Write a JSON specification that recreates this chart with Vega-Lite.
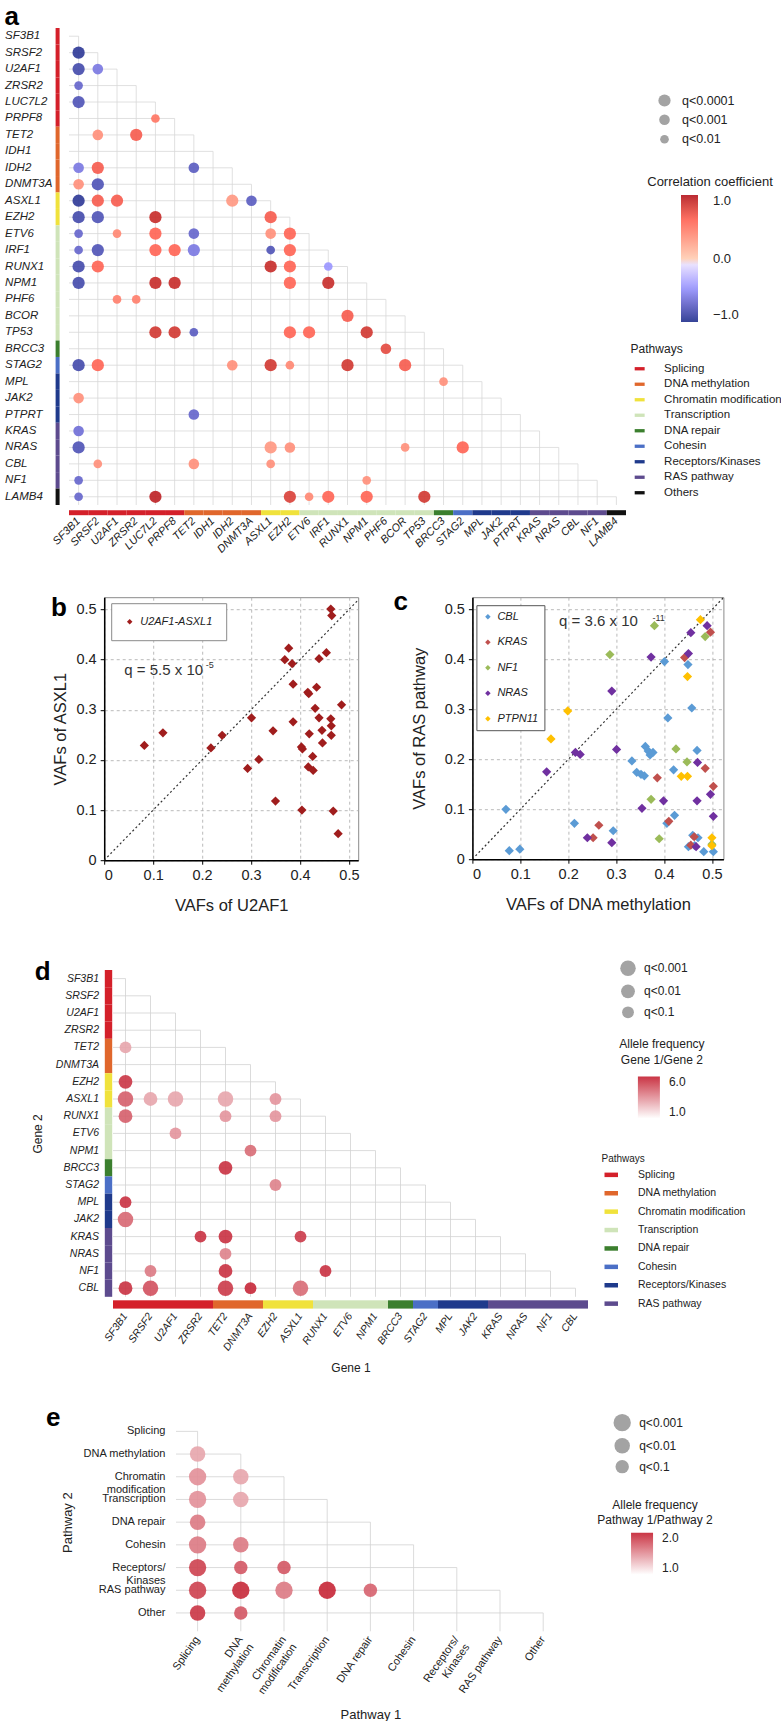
{
"$schema":"https://vega.github.io/schema/vega-lite/v6.json",
"background":"white",
"padding":{"left":3,"top":3,"right":0,"bottom":0},
"config":{"font":"Liberation Sans","view":{"stroke":null},
"axis":{"labelColor":"#222","titleColor":"#222","titleFontWeight":"normal","labelFont":"Liberation Sans","titleFont":"Liberation Sans"},
"legend":{"labelColor":"#222","titleColor":"#222","titleFontWeight":"normal","padding":0,"labelFont":"Liberation Sans","titleFont":"Liberation Sans"},
"title":{"font":"Liberation Sans","fontSize":26,"fontWeight":"bold","anchor":"start","frame":"group","offset":0,"baseline":"alphabetic","color":"#000"}},
"datasets":{
"genesA":[{"gene":"SF3B1","pathway":"Splicing"},{"gene":"SRSF2","pathway":"Splicing"},{"gene":"U2AF1","pathway":"Splicing"},{"gene":"ZRSR2","pathway":"Splicing"},{"gene":"LUC7L2","pathway":"Splicing"},{"gene":"PRPF8","pathway":"Splicing"},{"gene":"TET2","pathway":"DNA methylation"},{"gene":"IDH1","pathway":"DNA methylation"},{"gene":"IDH2","pathway":"DNA methylation"},{"gene":"DNMT3A","pathway":"DNA methylation"},{"gene":"ASXL1","pathway":"Chromatin modification"},{"gene":"EZH2","pathway":"Chromatin modification"},{"gene":"ETV6","pathway":"Transcription"},{"gene":"IRF1","pathway":"Transcription"},{"gene":"RUNX1","pathway":"Transcription"},{"gene":"NPM1","pathway":"Transcription"},{"gene":"PHF6","pathway":"Transcription"},{"gene":"BCOR","pathway":"Transcription"},{"gene":"TP53","pathway":"Transcription"},{"gene":"BRCC3","pathway":"DNA repair"},{"gene":"STAG2","pathway":"Cohesin"},{"gene":"MPL","pathway":"Receptors/Kinases"},{"gene":"JAK2","pathway":"Receptors/Kinases"},{"gene":"PTPRT","pathway":"Receptors/Kinases"},{"gene":"KRAS","pathway":"RAS pathway"},{"gene":"NRAS","pathway":"RAS pathway"},{"gene":"CBL","pathway":"RAS pathway"},{"gene":"NF1","pathway":"RAS pathway"},{"gene":"LAMB4","pathway":"Others"}],
"dotsA":[
{"g1":"SF3B1","g2":"SRSF2","cc":-0.95,"q":"q<0.0001"},{"g1":"SF3B1","g2":"U2AF1","cc":-0.85,"q":"q<0.0001"},{"g1":"SRSF2","g2":"U2AF1","cc":-0.6,"q":"q<0.001"},{"g1":"SF3B1","g2":"ZRSR2","cc":-0.7,"q":"q<0.01"},{"g1":"SF3B1","g2":"LUC7L2","cc":-0.8,"q":"q<0.0001"},{"g1":"LUC7L2","g2":"PRPF8","cc":0.5,"q":"q<0.01"},{"g1":"SRSF2","g2":"TET2","cc":0.35,"q":"q<0.001"},{"g1":"ZRSR2","g2":"TET2","cc":0.65,"q":"q<0.0001"},{"g1":"SF3B1","g2":"IDH2","cc":-0.6,"q":"q<0.001"},{"g1":"SRSF2","g2":"IDH2","cc":0.65,"q":"q<0.0001"},{"g1":"TET2","g2":"IDH2","cc":-0.75,"q":"q<0.001"},{"g1":"SF3B1","g2":"DNMT3A","cc":0.35,"q":"q<0.001"},{"g1":"SRSF2","g2":"DNMT3A","cc":-0.8,"q":"q<0.0001"},{"g1":"SF3B1","g2":"ASXL1","cc":-0.95,"q":"q<0.0001"},{"g1":"SRSF2","g2":"ASXL1","cc":0.65,"q":"q<0.0001"},{"g1":"U2AF1","g2":"ASXL1","cc":0.65,"q":"q<0.0001"},{"g1":"IDH2","g2":"ASXL1","cc":0.3,"q":"q<0.0001"},{"g1":"DNMT3A","g2":"ASXL1","cc":-0.75,"q":"q<0.001"},{"g1":"SF3B1","g2":"EZH2","cc":-0.85,"q":"q<0.0001"},{"g1":"SRSF2","g2":"EZH2","cc":-0.8,"q":"q<0.0001"},{"g1":"LUC7L2","g2":"EZH2","cc":0.9,"q":"q<0.0001"},{"g1":"ASXL1","g2":"EZH2","cc":0.65,"q":"q<0.0001"},{"g1":"SF3B1","g2":"ETV6","cc":-0.7,"q":"q<0.01"},{"g1":"U2AF1","g2":"ETV6","cc":0.4,"q":"q<0.01"},{"g1":"LUC7L2","g2":"ETV6","cc":0.6,"q":"q<0.0001"},{"g1":"TET2","g2":"ETV6","cc":-0.7,"q":"q<0.001"},{"g1":"ASXL1","g2":"ETV6","cc":0.35,"q":"q<0.001"},{"g1":"EZH2","g2":"ETV6","cc":0.6,"q":"q<0.0001"},{"g1":"SF3B1","g2":"IRF1","cc":-0.7,"q":"q<0.01"},{"g1":"SRSF2","g2":"IRF1","cc":-0.8,"q":"q<0.0001"},{"g1":"LUC7L2","g2":"IRF1","cc":0.6,"q":"q<0.0001"},{"g1":"PRPF8","g2":"IRF1","cc":0.6,"q":"q<0.0001"},{"g1":"TET2","g2":"IRF1","cc":-0.6,"q":"q<0.0001"},{"g1":"ASXL1","g2":"IRF1","cc":-0.8,"q":"q<0.01"},{"g1":"EZH2","g2":"IRF1","cc":0.6,"q":"q<0.0001"},{"g1":"SF3B1","g2":"RUNX1","cc":-0.85,"q":"q<0.0001"},{"g1":"SRSF2","g2":"RUNX1","cc":0.6,"q":"q<0.0001"},{"g1":"ASXL1","g2":"RUNX1","cc":0.9,"q":"q<0.0001"},{"g1":"EZH2","g2":"RUNX1","cc":0.6,"q":"q<0.0001"},{"g1":"IRF1","g2":"RUNX1","cc":-0.45,"q":"q<0.01"},{"g1":"SF3B1","g2":"NPM1","cc":-0.85,"q":"q<0.0001"},{"g1":"LUC7L2","g2":"NPM1","cc":0.9,"q":"q<0.0001"},{"g1":"PRPF8","g2":"NPM1","cc":0.9,"q":"q<0.0001"},{"g1":"EZH2","g2":"NPM1","cc":0.6,"q":"q<0.0001"},{"g1":"IRF1","g2":"NPM1","cc":0.9,"q":"q<0.0001"},{"g1":"U2AF1","g2":"PHF6","cc":0.45,"q":"q<0.01"},{"g1":"ZRSR2","g2":"PHF6","cc":0.45,"q":"q<0.01"},{"g1":"RUNX1","g2":"BCOR","cc":0.65,"q":"q<0.0001"},{"g1":"LUC7L2","g2":"TP53","cc":0.85,"q":"q<0.0001"},{"g1":"PRPF8","g2":"TP53","cc":0.85,"q":"q<0.0001"},{"g1":"TET2","g2":"TP53","cc":-0.75,"q":"q<0.01"},{"g1":"EZH2","g2":"TP53","cc":0.6,"q":"q<0.0001"},{"g1":"ETV6","g2":"TP53","cc":0.6,"q":"q<0.0001"},{"g1":"NPM1","g2":"TP53","cc":0.85,"q":"q<0.0001"},{"g1":"PHF6","g2":"BRCC3","cc":0.75,"q":"q<0.001"},{"g1":"SF3B1","g2":"STAG2","cc":-0.85,"q":"q<0.0001"},{"g1":"SRSF2","g2":"STAG2","cc":0.6,"q":"q<0.0001"},{"g1":"IDH2","g2":"STAG2","cc":0.35,"q":"q<0.001"},{"g1":"ASXL1","g2":"STAG2","cc":0.85,"q":"q<0.0001"},{"g1":"EZH2","g2":"STAG2","cc":0.4,"q":"q<0.01"},{"g1":"RUNX1","g2":"STAG2","cc":0.85,"q":"q<0.0001"},{"g1":"BCOR","g2":"STAG2","cc":0.65,"q":"q<0.0001"},{"g1":"BRCC3","g2":"MPL","cc":0.35,"q":"q<0.01"},{"g1":"SF3B1","g2":"JAK2","cc":0.35,"q":"q<0.001"},{"g1":"TET2","g2":"PTPRT","cc":-0.7,"q":"q<0.001"},{"g1":"SF3B1","g2":"KRAS","cc":-0.65,"q":"q<0.001"},{"g1":"SF3B1","g2":"NRAS","cc":-0.8,"q":"q<0.0001"},{"g1":"ASXL1","g2":"NRAS","cc":0.3,"q":"q<0.0001"},{"g1":"EZH2","g2":"NRAS","cc":0.35,"q":"q<0.001"},{"g1":"BCOR","g2":"NRAS","cc":0.35,"q":"q<0.01"},{"g1":"STAG2","g2":"NRAS","cc":0.6,"q":"q<0.0001"},{"g1":"SRSF2","g2":"CBL","cc":0.35,"q":"q<0.01"},{"g1":"TET2","g2":"CBL","cc":0.35,"q":"q<0.001"},{"g1":"ASXL1","g2":"CBL","cc":0.35,"q":"q<0.01"},{"g1":"SF3B1","g2":"NF1","cc":-0.7,"q":"q<0.01"},{"g1":"NPM1","g2":"NF1","cc":0.35,"q":"q<0.01"},{"g1":"SF3B1","g2":"LAMB4","cc":-0.7,"q":"q<0.01"},{"g1":"LUC7L2","g2":"LAMB4","cc":0.95,"q":"q<0.0001"},{"g1":"EZH2","g2":"LAMB4","cc":0.8,"q":"q<0.0001"},{"g1":"ETV6","g2":"LAMB4","cc":0.4,"q":"q<0.01"},{"g1":"IRF1","g2":"LAMB4","cc":0.6,"q":"q<0.0001"},{"g1":"NPM1","g2":"LAMB4","cc":0.6,"q":"q<0.0001"},{"g1":"TP53","g2":"LAMB4","cc":0.85,"q":"q<0.0001"}],
"vafB":[{"u":0.082,"a":0.229,"pair":"U2AF1-ASXL1"},{"u":0.120,"a":0.254,"pair":"U2AF1-ASXL1"},{"u":0.218,"a":0.224,"pair":"U2AF1-ASXL1"},{"u":0.241,"a":0.249,"pair":"U2AF1-ASXL1"},{"u":0.293,"a":0.183,"pair":"U2AF1-ASXL1"},{"u":0.301,"a":0.284,"pair":"U2AF1-ASXL1"},{"u":0.316,"a":0.201,"pair":"U2AF1-ASXL1"},{"u":0.345,"a":0.258,"pair":"U2AF1-ASXL1"},{"u":0.350,"a":0.118,"pair":"U2AF1-ASXL1"},{"u":0.369,"a":0.400,"pair":"U2AF1-ASXL1"},{"u":0.377,"a":0.423,"pair":"U2AF1-ASXL1"},{"u":0.384,"a":0.392,"pair":"U2AF1-ASXL1"},{"u":0.386,"a":0.351,"pair":"U2AF1-ASXL1"},{"u":0.386,"a":0.276,"pair":"U2AF1-ASXL1"},{"u":0.403,"a":0.226,"pair":"U2AF1-ASXL1"},{"u":0.404,"a":0.100,"pair":"U2AF1-ASXL1"},{"u":0.405,"a":0.222,"pair":"U2AF1-ASXL1"},{"u":0.416,"a":0.335,"pair":"U2AF1-ASXL1"},{"u":0.418,"a":0.332,"pair":"U2AF1-ASXL1"},{"u":0.419,"a":0.252,"pair":"U2AF1-ASXL1"},{"u":0.417,"a":0.186,"pair":"U2AF1-ASXL1"},{"u":0.427,"a":0.179,"pair":"U2AF1-ASXL1"},{"u":0.426,"a":0.207,"pair":"U2AF1-ASXL1"},{"u":0.431,"a":0.303,"pair":"U2AF1-ASXL1"},{"u":0.434,"a":0.345,"pair":"U2AF1-ASXL1"},{"u":0.439,"a":0.402,"pair":"U2AF1-ASXL1"},{"u":0.439,"a":0.284,"pair":"U2AF1-ASXL1"},{"u":0.445,"a":0.259,"pair":"U2AF1-ASXL1"},{"u":0.446,"a":0.234,"pair":"U2AF1-ASXL1"},{"u":0.454,"a":0.414,"pair":"U2AF1-ASXL1"},{"u":0.463,"a":0.501,"pair":"U2AF1-ASXL1"},{"u":0.465,"a":0.488,"pair":"U2AF1-ASXL1"},{"u":0.463,"a":0.282,"pair":"U2AF1-ASXL1"},{"u":0.464,"a":0.268,"pair":"U2AF1-ASXL1"},{"u":0.464,"a":0.249,"pair":"U2AF1-ASXL1"},{"u":0.468,"a":0.098,"pair":"U2AF1-ASXL1"},{"u":0.478,"a":0.053,"pair":"U2AF1-ASXL1"},{"u":0.485,"a":0.310,"pair":"U2AF1-ASXL1"}],
"vafC":[{"d":0.070,"r":0.100,"gene":"CBL"},{"d":0.077,"r":0.017,"gene":"CBL"},{"d":0.099,"r":0.020,"gene":"CBL"},{"d":0.213,"r":0.072,"gene":"CBL"},{"d":0.294,"r":0.057,"gene":"CBL"},{"d":0.333,"r":0.197,"gene":"CBL"},{"d":0.343,"r":0.174,"gene":"CBL"},{"d":0.352,"r":0.170,"gene":"CBL"},{"d":0.359,"r":0.167,"gene":"CBL"},{"d":0.361,"r":0.226,"gene":"CBL"},{"d":0.367,"r":0.217,"gene":"CBL"},{"d":0.371,"r":0.209,"gene":"CBL"},{"d":0.377,"r":0.214,"gene":"CBL"},{"d":0.401,"r":0.396,"gene":"CBL"},{"d":0.408,"r":0.283,"gene":"CBL"},{"d":0.406,"r":0.072,"gene":"CBL"},{"d":0.422,"r":0.088,"gene":"CBL"},{"d":0.420,"r":0.179,"gene":"CBL"},{"d":0.450,"r":0.390,"gene":"CBL"},{"d":0.458,"r":0.303,"gene":"CBL"},{"d":0.469,"r":0.218,"gene":"CBL"},{"d":0.460,"r":0.048,"gene":"CBL"},{"d":0.464,"r":0.027,"gene":"CBL"},{"d":0.451,"r":0.025,"gene":"CBL"},{"d":0.471,"r":0.043,"gene":"CBL"},{"d":0.483,"r":0.015,"gene":"CBL"},{"d":0.503,"r":0.015,"gene":"CBL"},
{"d":0.252,"r":0.043,"gene":"KRAS"},{"d":0.264,"r":0.068,"gene":"KRAS"},{"d":0.386,"r":0.163,"gene":"KRAS"},{"d":0.410,"r":0.076,"gene":"KRAS"},{"d":0.443,"r":0.404,"gene":"KRAS"},{"d":0.456,"r":0.028,"gene":"KRAS"},{"d":0.463,"r":0.045,"gene":"KRAS"},{"d":0.486,"r":0.182,"gene":"KRAS"},{"d":0.497,"r":0.455,"gene":"KRAS"},{"d":0.503,"r":0.146,"gene":"KRAS"},
{"d":0.287,"r":0.410,"gene":"NF1"},{"d":0.380,"r":0.468,"gene":"NF1"},{"d":0.373,"r":0.120,"gene":"NF1"},{"d":0.390,"r":0.041,"gene":"NF1"},{"d":0.425,"r":0.221,"gene":"NF1"},{"d":0.448,"r":0.195,"gene":"NF1"},{"d":0.486,"r":0.446,"gene":"NF1"},{"d":0.500,"r":0.030,"gene":"NF1"},
{"d":0.139,"r":0.446,"gene":"NRAS"},{"d":0.155,"r":0.175,"gene":"NRAS"},{"d":0.215,"r":0.214,"gene":"NRAS"},{"d":0.225,"r":0.210,"gene":"NRAS"},{"d":0.240,"r":0.043,"gene":"NRAS"},{"d":0.291,"r":0.337,"gene":"NRAS"},{"d":0.291,"r":0.033,"gene":"NRAS"},{"d":0.301,"r":0.220,"gene":"NRAS"},{"d":0.373,"r":0.405,"gene":"NRAS"},{"d":0.354,"r":0.102,"gene":"NRAS"},{"d":0.399,"r":0.117,"gene":"NRAS"},{"d":0.456,"r":0.454,"gene":"NRAS"},{"d":0.451,"r":0.412,"gene":"NRAS"},{"d":0.470,"r":0.194,"gene":"NRAS"},{"d":0.469,"r":0.117,"gene":"NRAS"},{"d":0.467,"r":0.025,"gene":"NRAS"},{"d":0.490,"r":0.468,"gene":"NRAS"},{"d":0.497,"r":0.130,"gene":"NRAS"},{"d":0.503,"r":0.086,"gene":"NRAS"},
{"d":0.164,"r":0.241,"gene":"PTPN11"},{"d":0.199,"r":0.297,"gene":"PTPN11"},{"d":0.436,"r":0.166,"gene":"PTPN11"},{"d":0.449,"r":0.166,"gene":"PTPN11"},{"d":0.449,"r":0.366,"gene":"PTPN11"},{"d":0.476,"r":0.480,"gene":"PTPN11"},{"d":0.500,"r":0.043,"gene":"PTPN11"},{"d":0.500,"r":0.027,"gene":"PTPN11"}],
"genesD":[{"gene":"SF3B1","pathway":"Splicing"},{"gene":"SRSF2","pathway":"Splicing"},{"gene":"U2AF1","pathway":"Splicing"},{"gene":"ZRSR2","pathway":"Splicing"},{"gene":"TET2","pathway":"DNA methylation"},{"gene":"DNMT3A","pathway":"DNA methylation"},{"gene":"EZH2","pathway":"Chromatin modification"},{"gene":"ASXL1","pathway":"Chromatin modification"},{"gene":"RUNX1","pathway":"Transcription"},{"gene":"ETV6","pathway":"Transcription"},{"gene":"NPM1","pathway":"Transcription"},{"gene":"BRCC3","pathway":"DNA repair"},{"gene":"STAG2","pathway":"Cohesin"},{"gene":"MPL","pathway":"Receptors/Kinases"},{"gene":"JAK2","pathway":"Receptors/Kinases"},{"gene":"KRAS","pathway":"RAS pathway"},{"gene":"NRAS","pathway":"RAS pathway"},{"gene":"NF1","pathway":"RAS pathway"},{"gene":"CBL","pathway":"RAS pathway"}],
"dotsD":[{"g1":"SF3B1","g2":"TET2","af":3.0,"q":"q<0.1"},{"g1":"SF3B1","g2":"EZH2","af":5.5,"q":"q<0.01"},{"g1":"SF3B1","g2":"ASXL1","af":4.6,"q":"q<0.001"},{"g1":"SRSF2","g2":"ASXL1","af":3.0,"q":"q<0.01"},{"g1":"U2AF1","g2":"ASXL1","af":3.0,"q":"q<0.001"},{"g1":"TET2","g2":"ASXL1","af":3.0,"q":"q<0.001"},{"g1":"EZH2","g2":"ASXL1","af":3.4,"q":"q<0.1"},{"g1":"SF3B1","g2":"RUNX1","af":4.6,"q":"q<0.01"},{"g1":"TET2","g2":"RUNX1","af":3.4,"q":"q<0.1"},{"g1":"EZH2","g2":"RUNX1","af":3.4,"q":"q<0.1"},{"g1":"U2AF1","g2":"ETV6","af":3.4,"q":"q<0.1"},{"g1":"DNMT3A","g2":"NPM1","af":4.3,"q":"q<0.1"},{"g1":"TET2","g2":"BRCC3","af":5.6,"q":"q<0.01"},{"g1":"EZH2","g2":"STAG2","af":3.8,"q":"q<0.1"},{"g1":"SF3B1","g2":"MPL","af":5.6,"q":"q<0.1"},{"g1":"SF3B1","g2":"JAK2","af":4.4,"q":"q<0.001"},{"g1":"ZRSR2","g2":"KRAS","af":5.6,"q":"q<0.1"},{"g1":"TET2","g2":"KRAS","af":5.6,"q":"q<0.01"},{"g1":"ASXL1","g2":"KRAS","af":5.4,"q":"q<0.1"},{"g1":"TET2","g2":"NRAS","af":3.8,"q":"q<0.1"},{"g1":"SRSF2","g2":"NF1","af":4.0,"q":"q<0.1"},{"g1":"TET2","g2":"NF1","af":5.6,"q":"q<0.01"},{"g1":"RUNX1","g2":"NF1","af":5.6,"q":"q<0.1"},{"g1":"SF3B1","g2":"CBL","af":5.6,"q":"q<0.01"},{"g1":"SRSF2","g2":"CBL","af":4.9,"q":"q<0.001"},{"g1":"TET2","g2":"CBL","af":5.4,"q":"q<0.001"},{"g1":"DNMT3A","g2":"CBL","af":5.8,"q":"q<0.1"},{"g1":"ASXL1","g2":"CBL","af":4.3,"q":"q<0.001"}],
"pathsE":[{"p":"Splicing"},{"p":"DNA methylation"},{"p":"Chromatin modification"},{"p":"Transcription"},{"p":"DNA repair"},{"p":"Cohesin"},{"p":"Receptors/Kinases"},{"p":"RAS pathway"},{"p":"Other"}],
"dotsE":[{"p1":"Splicing","p2":"DNA methylation","af":1.4,"q":"q<0.01"},{"p1":"Splicing","p2":"Chromatin modification","af":1.5,"q":"q<0.001"},{"p1":"DNA methylation","p2":"Chromatin modification","af":1.4,"q":"q<0.01"},{"p1":"Splicing","p2":"Transcription","af":1.5,"q":"q<0.001"},{"p1":"DNA methylation","p2":"Transcription","af":1.4,"q":"q<0.01"},{"p1":"Splicing","p2":"DNA repair","af":1.6,"q":"q<0.01"},{"p1":"Splicing","p2":"Cohesin","af":1.6,"q":"q<0.001"},{"p1":"DNA methylation","p2":"Cohesin","af":1.6,"q":"q<0.01"},{"p1":"Splicing","p2":"Receptors/Kinases","af":1.85,"q":"q<0.001"},{"p1":"DNA methylation","p2":"Receptors/Kinases","af":1.75,"q":"q<0.1"},{"p1":"Chromatin modification","p2":"Receptors/Kinases","af":1.75,"q":"q<0.1"},{"p1":"Splicing","p2":"RAS pathway","af":1.85,"q":"q<0.001"},{"p1":"DNA methylation","p2":"RAS pathway","af":1.95,"q":"q<0.001"},{"p1":"Chromatin modification","p2":"RAS pathway","af":1.6,"q":"q<0.001"},{"p1":"Transcription","p2":"RAS pathway","af":1.97,"q":"q<0.001"},{"p1":"DNA repair","p2":"RAS pathway","af":1.7,"q":"q<0.1"},{"p1":"Splicing","p2":"Other","af":1.9,"q":"q<0.01"},{"p1":"DNA methylation","p2":"Other","af":1.75,"q":"q<0.1"}]
},
"spacing":44,
"resolve":{"scale":{"color":"independent","size":"independent","fill":"independent"}},
"vconcat":[
{"spacing":33.2,
"resolve":{"scale":{"color":"independent","size":"independent","fill":"independent"}},
"vconcat":[
{"spacing":0,"resolve":{"scale":{"color":"independent","size":"independent","fill":"independent"}},
"hconcat":[
{"width":1,"height":1,"data":{"values":[]},"mark":"point"},
{"width":557,"height":477,
"title":{"text":"a","dx":-64.4,"dy":5.7},
"layer":[
{"data":{"name":"genesA"},"mark":{"type":"rule","color":"#d8d8d8","strokeWidth":0.8},
"encoding":{"x":{"field":"gene","type":"nominal","scale":{"type":"band","domain":["SF3B1","SRSF2","U2AF1","ZRSR2","LUC7L2","PRPF8","TET2","IDH1","IDH2","DNMT3A","ASXL1","EZH2","ETV6","IRF1","RUNX1","NPM1","PHF6","BCOR","TP53","BRCC3","STAG2","MPL","JAK2","PTPRT","KRAS","NRAS","CBL","NF1","LAMB4"],"paddingInner":0,"paddingOuter":0},
"axis":{"title":null,"ticks":false,"domain":false,"labelAngle":-45,"labelAlign":"right","labelBaseline":"middle","labelPadding":14,"labelFontStyle":"italic","labelFontSize":11}},
"x2":{"value":0},
"y":{"field":"gene","type":"nominal","scale":{"type":"band","domain":["SF3B1","SRSF2","U2AF1","ZRSR2","LUC7L2","PRPF8","TET2","IDH1","IDH2","DNMT3A","ASXL1","EZH2","ETV6","IRF1","RUNX1","NPM1","PHF6","BCOR","TP53","BRCC3","STAG2","MPL","JAK2","PTPRT","KRAS","NRAS","CBL","NF1","LAMB4"],"paddingInner":0,"paddingOuter":0},
"axis":{"title":null,"ticks":false,"domain":false,"labelAlign":"left","labelPadding":64.4,"labelFontStyle":"italic","labelFontSize":11.5}}}},
{"data":{"name":"genesA"},"mark":{"type":"rule","color":"#d8d8d8","strokeWidth":0.8},
"encoding":{"x":{"field":"gene","type":"nominal"},"y":{"field":"gene","type":"nominal"},"y2":{"value":"height"}}},
{"data":{"name":"genesA"},"mark":{"type":"rect"},
"encoding":{"y":{"field":"gene","type":"nominal"},"x":{"value":-13.4},"x2":{"value":-9.4},
"fill":{"field":"pathway","type":"nominal","scale":{"domain":["Splicing","DNA methylation","Chromatin modification","Transcription","DNA repair","Cohesin","Receptors/Kinases","RAS pathway","Others"],"range":["#d4202a","#e0672c","#f0e23c","#cfe4b9","#3b7f2e","#4b6fc6","#1f3a8c","#5d4b8e","#111111"]},
"legend":{"title":"Pathways","orient":"none","legendX":561.6,"legendY":316,"symbolType":"M-0.5,-0.5H2.5V0.5H-0.5Z","symbolSize":44,"symbolStrokeWidth":0,"symbolOpacity":1,"labelOffset":22,"rowPadding":2.5,"titlePadding":7,"titleFontSize":12,"labelFontSize":11.5}}}},
{"data":{"name":"genesA"},"mark":{"type":"rect","yOffset":5.2,"y2Offset":10.2},
"encoding":{"x":{"field":"gene","type":"nominal"},"y":{"value":"height"},"y2":{"value":"height"},"fill":{"field":"pathway","type":"nominal"}}},
{"data":{"name":"dotsA"},"mark":{"type":"circle","opacity":0.9},
"encoding":{"x":{"field":"g1","type":"nominal"},"y":{"field":"g2","type":"nominal"},
"size":{"field":"q","type":"ordinal","scale":{"domain":["q<0.0001","q<0.001","q<0.01"],"range":[150,75,36]},
"legend":{"title":null,"orient":"none","legendX":589,"legendY":66,"symbolFillColor":"#a3a3a3","symbolStrokeWidth":0,"symbolOpacity":1,"labelFontSize":12.5,"rowPadding":6.5,"labelOffset":11}},
"color":{"field":"cc","type":"quantitative","scale":{"domain":[-1,0,1],"range":["#1f2f8c","#ffffff","#b3121c"]},
"legend":{"title":"Correlation coefficient","orient":"none","direction":"vertical","legendX":578,"legendY":148,"gradientLength":127,"gradientThickness":17,"values":[1,0,-1],"format":".1f","titleAnchor":"middle","titleFontSize":13,"labelFontSize":13,"labelOffset":15,"titlePadding":6,"gradientStrokeWidth":0}}}}
]}
]},
{"spacing":32.2,"resolve":{"scale":{"color":"independent","size":"independent","fill":"independent"}},
"hconcat":[
{"width":14.8,"height":1,"data":{"values":[]},"mark":"point"},
{"width":254,"height":263,"view":{"stroke":"#8a8a8a","strokeWidth":1},
"title":{"text":"b","dx":-53.3,"dy":28.2},
"layer":[
{"data":{"values":[{"x0":0,"y0":0,"x1":0.53,"y1":0.53}]},"mark":{"type":"rule","strokeDash":[2,2.5],"color":"#333","strokeWidth":1.2,"clip":true},
"encoding":{"x":{"field":"x0","type":"quantitative","scale":{"domain":[0,0.519],"nice":false},
"axis":{"title":"VAFs of U2AF1","values":[0,0.1,0.2,0.3,0.4,0.5],"format":"~g","grid":true,"gridDash":[3,3],"gridColor":"#a8a8a8","gridWidth":0.8,"domainColor":"#000","domainWidth":1.5,"tickColor":"#000","tickSize":4,"labelFontSize":14.5,"titleFontSize":16.5,"labelPadding":4,"titlePadding":16}},
"y":{"field":"y0","type":"quantitative","scale":{"domain":[0,0.5246],"nice":false},
"axis":{"title":"VAFs of ASXL1","values":[0,0.1,0.2,0.3,0.4,0.5],"format":"~g","grid":true,"gridDash":[3,3],"gridColor":"#a8a8a8","gridWidth":0.8,"domainColor":"#000","domainWidth":1.5,"tickColor":"#000","tickSize":4,"labelFontSize":14.5,"titleFontSize":16.5,"labelPadding":4,"titlePadding":8}},
"x2":{"field":"x1"},"y2":{"field":"y1"}}},
{"data":{"name":"vafB"},"mark":{"type":"point","shape":"diamond","filled":true,"size":85,"opacity":1},
"encoding":{"x":{"field":"u","type":"quantitative","scale":{"domain":[0,0.519],"nice":false}},"y":{"field":"a","type":"quantitative","scale":{"domain":[0,0.5246],"nice":false}},
"color":{"field":"pair","type":"nominal","scale":{"range":["#a01d1d"]},
"legend":{"title":null,"orient":"none","legendX":7,"legendY":6,"strokeColor":"#8a8a8a","fillColor":"#ffffff","padding":13,"symbolSize":30,"symbolType":"diamond","labelFontStyle":"italic","labelFontSize":11,"labelOffset":5}}}},
{"data":{"values":[{"x":0.041,"y":0.369,"t":"q = 5.5 x 10"}]},"mark":{"type":"text","align":"left","baseline":"alphabetic","fontSize":15,"color":"#333"},
"encoding":{"x":{"field":"x","type":"quantitative","scale":{"domain":[0,0.519],"nice":false}},"y":{"field":"y","type":"quantitative","scale":{"domain":[0,0.5246],"nice":false}},"text":{"field":"t","type":"nominal"}}},
{"data":{"values":[{"x":0.2075,"y":0.384,"t":"-5"}]},"mark":{"type":"text","align":"left","baseline":"alphabetic","fontSize":9,"color":"#333"},
"encoding":{"x":{"field":"x","type":"quantitative","scale":{"domain":[0,0.519],"nice":false}},"y":{"field":"y","type":"quantitative","scale":{"domain":[0,0.5246],"nice":false}},"text":{"field":"t","type":"nominal"}}}
]},
{"width":251,"height":262,"view":{"stroke":"#8a8a8a","strokeWidth":1},
"title":{"text":"c","dx":-79,"dy":22.2},
"layer":[
{"data":{"values":[{"x0":0,"y0":0,"x1":0.53,"y1":0.53}]},"mark":{"type":"rule","strokeDash":[2,2.5],"color":"#333","strokeWidth":1.2,"clip":true},
"encoding":{"x":{"field":"x0","type":"quantitative","scale":{"domain":[0,0.524],"nice":false},
"axis":{"title":"VAFs of DNA methylation","values":[0,0.1,0.2,0.3,0.4,0.5],"format":"~g","grid":true,"gridDash":[3,3],"gridColor":"#a8a8a8","gridWidth":0.8,"domainColor":"#000","domainWidth":1.5,"tickColor":"#000","tickSize":4,"labelFontSize":14.5,"titleFontSize":16.5,"labelPadding":4,"titlePadding":16}},
"y":{"field":"y0","type":"quantitative","scale":{"domain":[0,0.525],"nice":false},
"axis":{"title":"VAFs of RAS pathway","values":[0,0.1,0.2,0.3,0.4,0.5],"format":"~g","grid":true,"gridDash":[3,3],"gridColor":"#a8a8a8","gridWidth":0.8,"domainColor":"#000","domainWidth":1.5,"tickColor":"#000","tickSize":4,"labelFontSize":14.5,"titleFontSize":16.5,"labelPadding":4,"titlePadding":17}},
"x2":{"field":"x1"},"y2":{"field":"y1"}}},
{"data":{"name":"vafC"},"mark":{"type":"point","shape":"diamond","filled":true,"size":85,"opacity":1},
"encoding":{"x":{"field":"d","type":"quantitative","scale":{"domain":[0,0.524],"nice":false}},"y":{"field":"r","type":"quantitative","scale":{"domain":[0,0.525],"nice":false}},
"color":{"field":"gene","type":"nominal","scale":{"domain":["CBL","KRAS","NF1","NRAS","PTPN11"],"range":["#5b9bd5","#c0504d","#9bbb59","#7030a0","#ffc000"]},
"legend":{"title":null,"orient":"none","legendX":4,"legendY":8,"strokeColor":"#555555","fillColor":"#ffffff","padding":6,"rowPadding":13.5,"symbolSize":30,"symbolType":"diamond","labelFontStyle":"italic","labelFontSize":11,"labelOffset":4}}}},
{"data":{"values":[{"x":0.181,"y":0.468,"t":"q = 3.6 x 10"}]},"mark":{"type":"text","align":"left","baseline":"alphabetic","fontSize":15,"color":"#333"},
"encoding":{"x":{"field":"x","type":"quantitative","scale":{"domain":[0,0.524],"nice":false}},"y":{"field":"y","type":"quantitative","scale":{"domain":[0,0.525],"nice":false}},"text":{"field":"t","type":"nominal"}}},
{"data":{"values":[{"x":0.376,"y":0.478,"t":"-11"}]},"mark":{"type":"text","align":"left","baseline":"alphabetic","fontSize":9,"color":"#333"},
"encoding":{"x":{"field":"x","type":"quantitative","scale":{"domain":[0,0.524],"nice":false}},"y":{"field":"y","type":"quantitative","scale":{"domain":[0,0.525],"nice":false}},"text":{"field":"t","type":"nominal"}}}
]}
]}
]},
{"spacing":31,
"resolve":{"scale":{"color":"independent","size":"independent","fill":"independent"}},
"vconcat":[
{"spacing":0,"resolve":{"scale":{"color":"independent","size":"independent","fill":"independent"}},
"hconcat":[
{"width":27.7,"height":1,"data":{"values":[]},"mark":"point"},
{"width":475,"height":326.8,
"title":{"text":"d","dx":-78.2,"dy":28.8},
"layer":[
{"data":{"name":"genesD"},"mark":{"type":"rule","color":"#d2d2d2","strokeWidth":0.8},
"encoding":{"x":{"field":"gene","type":"nominal","scale":{"type":"band","domain":["SF3B1","SRSF2","U2AF1","ZRSR2","TET2","DNMT3A","EZH2","ASXL1","RUNX1","ETV6","NPM1","BRCC3","STAG2","MPL","JAK2","KRAS","NRAS","NF1","CBL"],"paddingInner":0,"paddingOuter":0},
"axis":{"title":"Gene 1","titleFontSize":12,"titlePadding":10,"ticks":false,"domain":false,"labelAngle":-55,"labelAlign":"right","labelBaseline":"middle","labelPadding":17,"labelFontStyle":"italic","labelFontSize":10.5}},
"x2":{"value":0},
"y":{"field":"gene","type":"nominal","scale":{"type":"band","domain":["SF3B1","SRSF2","U2AF1","ZRSR2","TET2","DNMT3A","EZH2","ASXL1","RUNX1","ETV6","NPM1","BRCC3","STAG2","MPL","JAK2","KRAS","NRAS","NF1","CBL"],"paddingInner":0,"paddingOuter":0},
"axis":{"title":"Gene 2","titleFontSize":12,"titlePadding":11,"ticks":false,"domain":false,"labelPadding":14.5,"labelFontStyle":"italic","labelFontSize":10.5}}}},
{"data":{"name":"genesD"},"mark":{"type":"rule","color":"#d2d2d2","strokeWidth":0.8},
"encoding":{"x":{"field":"gene","type":"nominal"},"y":{"field":"gene","type":"nominal"},"y2":{"value":"height"}}},
{"data":{"name":"genesD"},"mark":{"type":"rect"},
"encoding":{"y":{"field":"gene","type":"nominal"},"x":{"value":-8.2},"x2":{"value":-0.8},
"fill":{"field":"pathway","type":"nominal","scale":{"domain":["Splicing","DNA methylation","Chromatin modification","Transcription","DNA repair","Cohesin","Receptors/Kinases","RAS pathway"],"range":["#d4202a","#e0672c","#f0e23c","#cfe4b9","#3b7f2e","#4b6fc6","#1f3a8c","#5d4b8e"]},
"legend":{"title":"Pathways","orient":"none","legendX":488.5,"legendY":183.6,"symbolType":"M-0.5,-0.5H2.5V0.5H-0.5Z","symbolSize":81,"symbolStrokeWidth":0,"symbolOpacity":1,"labelOffset":26,"rowPadding":7.4,"titlePadding":6,"titleFontSize":10,"labelFontSize":10.5}}}},
{"data":{"name":"genesD"},"mark":{"type":"rect","yOffset":3.5,"y2Offset":11.8},
"encoding":{"x":{"field":"gene","type":"nominal"},"y":{"value":"height"},"y2":{"value":"height"},"fill":{"field":"pathway","type":"nominal"}}},
{"data":{"name":"dotsD"},"mark":{"type":"circle","opacity":0.9},
"encoding":{"x":{"field":"g1","type":"nominal"},"y":{"field":"g2","type":"nominal"},
"size":{"field":"q","type":"ordinal","scale":{"domain":["q<0.001","q<0.01","q<0.1"],"range":[240,140,70]},
"legend":{"title":null,"orient":"none","legendX":507,"legendY":-9.7,"symbolFillColor":"#a3a3a3","symbolStrokeWidth":0,"symbolOpacity":1,"labelFontSize":12,"rowPadding":8,"labelOffset":8}},
"color":{"field":"af","type":"quantitative","scale":{"domain":[1,6],"range":["#ffffff","#c41f30"],"interpolate":"rgb"},
"legend":{"title":["Allele frequency","Gene 1/Gene 2"],"orient":"none","direction":"vertical","legendX":505.9,"legendY":68.6,"gradientLength":42,"gradientThickness":22,"values":[6,1],"format":".1f","titleAnchor":"middle","titleFontSize":12,"titleLineHeight":16,"labelFontSize":12,"labelOffset":9,"labelBaseline":"middle","titlePadding":10,"gradientStrokeWidth":0}}}}
]}
]},
{"spacing":0,"resolve":{"scale":{"color":"independent","size":"independent","fill":"independent"}},
"hconcat":[
{"width":42,"height":1,"data":{"values":[]},"mark":"point"},
{"width":388.8,"height":204.3,
"title":{"text":"e","dx":-130.1,"dy":21.5},
"layer":[
{"data":{"name":"pathsE"},"mark":{"type":"rule","color":"#d2d2d2","strokeWidth":0.8},
"encoding":{"x":{"field":"p","type":"nominal","scale":{"type":"band","domain":["Splicing","DNA methylation","Chromatin modification","Transcription","DNA repair","Cohesin","Receptors/Kinases","RAS pathway","Other"],"paddingInner":0,"paddingOuter":0},
"axis":{"title":"Pathway 1","titleFontSize":13,"titlePadding":13,"ticks":false,"domain":false,"labelAngle":-55,"labelAlign":"right","labelBaseline":"middle","labelPadding":13,"labelFontSize":11,"labelLineHeight":13,"labelExpr":"datum.value == 'Chromatin modification' ? ['Chromatin','modification'] : datum.value == 'Receptors/Kinases' ? ['Receptors/','Kinases'] : datum.value == 'DNA methylation' ? ['DNA','methylation'] : datum.value"}},
"x2":{"value":0},
"y":{"field":"p","type":"nominal","scale":{"type":"band","domain":["Splicing","DNA methylation","Chromatin modification","Transcription","DNA repair","Cohesin","Receptors/Kinases","RAS pathway","Other"],"paddingInner":0,"paddingOuter":0},
"axis":{"title":"Pathway 2","titleFontSize":13,"titlePadding":8,"ticks":false,"domain":false,"labelPadding":11,"labelFontSize":11,"labelLineHeight":13,"labelExpr":"datum.value == 'Chromatin modification' ? ['Chromatin','modification'] : datum.value == 'Receptors/Kinases' ? ['Receptors/','Kinases'] : datum.value"}}}},
{"data":{"name":"pathsE"},"mark":{"type":"rule","color":"#d2d2d2","strokeWidth":0.8,"y2Offset":7},
"encoding":{"x":{"field":"p","type":"nominal"},"y":{"field":"p","type":"nominal"},"y2":{"value":"height"}}},
{"data":{"name":"dotsE"},"mark":{"type":"circle","opacity":0.9},
"encoding":{"x":{"field":"p1","type":"nominal"},"y":{"field":"p2","type":"nominal"},
"size":{"field":"q","type":"ordinal","scale":{"domain":["q<0.001","q<0.01","q<0.1"],"range":[300,180,100]},
"legend":{"title":null,"orient":"none","legendX":437.2,"legendY":-6.35,"symbolFillColor":"#a3a3a3","symbolStrokeWidth":0,"symbolOpacity":1,"labelFontSize":12,"rowPadding":6,"labelOffset":8}},
"color":{"field":"af","type":"quantitative","scale":{"domain":[1,2],"range":["#ffffff","#c41f30"],"interpolate":"rgb"},
"legend":{"title":["Allele frequency","Pathway 1/Pathway 2"],"orient":"none","direction":"vertical","legendX":421.05,"legendY":79.65,"gradientLength":42,"gradientThickness":22,"values":[2,1],"format":".1f","titleAnchor":"middle","titleFontSize":12,"titleLineHeight":15,"labelFontSize":12,"labelOffset":9,"labelBaseline":"middle","titlePadding":6,"gradientStrokeWidth":0}}}}
]}
]}
]}
]
}
